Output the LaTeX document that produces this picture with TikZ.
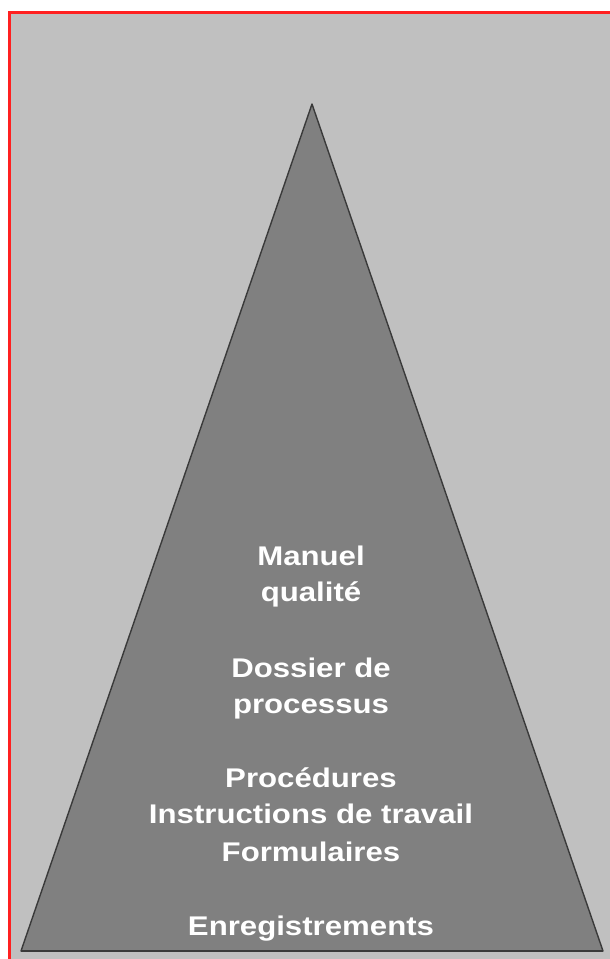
\documentclass[tikz,border=0pt]{standalone}
\usepackage{fontspec}
\setmainfont{Liberation Sans}
\definecolor{panelgray}{HTML}{C0C0C0}
\definecolor{pyrfill}{HTML}{808080}
\definecolor{pyredge}{HTML}{3A3A3A}
\definecolor{frame}{HTML}{FF2020}
\tikzset{
  lbl/.style={anchor=base, text=white, inner sep=0pt,
    font=\fontsize{27}{37}\selectfont\bfseries},
}
\newcommand{\wide}[1]{\scalebox{1.155}[1]{#1}}
\begin{document}
\begin{tikzpicture}[x=1pt,y=-1pt]
  \useasboundingbox (0,0) rectangle (610,959);
  \fill[white] (0,0) rectangle (610,959);
  % grey panel with red frame (right and bottom edges run off the page)
  \begin{scope}
    \clip (0,0) rectangle (610,959);
    \fill[panelgray] (9,12) rectangle (640,990);
    \draw[frame, line width=3pt] (9,12) rectangle (640,990);
  \end{scope}
  % pyramid
  \coordinate (apex) at (312,104);
  \coordinate (bl) at (21,951);
  \coordinate (br) at (603,951);
  \filldraw[fill=pyrfill, draw=pyredge, line width=1.4pt, line join=round]
    (apex) -- (br) -- (bl) -- cycle;
  \draw[pyredge, line width=2pt] (bl) -- (br);
  % labels
  \node[lbl] (l1) at (311,565) {\wide{Manuel}};
  \node[lbl] (l2) at (311,601) {\wide{qualité}};
  \node[lbl] (l3) at (311,677) {\wide{Dossier de}};
  \node[lbl] (l4) at (311,713) {\wide{processus}};
  \node[lbl] (l5) at (311,787) {\wide{Procédures}};
  \node[lbl] (l6) at (311,823) {\wide{Instructions de travail}};
  \node[lbl] (l7) at (311,861) {\wide{Formulaires}};
  \node[lbl] (l8) at (311,935) {\wide{Enregistrements}};
\end{tikzpicture}
\end{document}
